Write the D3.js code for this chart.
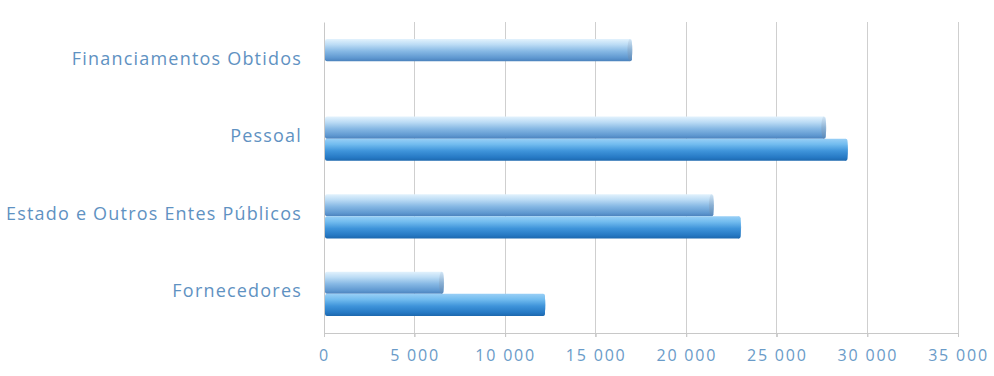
<!DOCTYPE html>
<html><head><meta charset="utf-8">
<script src="https://cdn.jsdelivr.net/npm/d3@7"></script>
<style>body{margin:0;background:#fff;}svg{display:block;}</style>
</head><body>
<svg id="c" width="994" height="376"></svg>
<script>
const categories = ["Financiamentos Obtidos","Pessoal","Estado e Outros Entes Públicos","Fornecedores"];
const seriesA = [17000, 27700, 21500, 6600];   // lighter (upper) bars
const seriesB = [0, 28900, 23000, 12200];       // darker (lower) bars
const xTicks = [0,5000,10000,15000,20000,25000,30000,35000];

const svg = d3.select("#c");
const m = {l:324, r:958, t:22, b:333};
const x = d3.scaleLinear().domain([0,35000]).range([m.l, m.r]);
const y = d3.scaleBand().domain(categories).range([m.t, m.b]).paddingInner(0.43).paddingOuter(0.22);
const sub = d3.scaleBand().domain(["A","B"]).range([0, y.bandwidth()]);

const defs = svg.append("defs");
function grad(id, stops){
  const g = defs.append("linearGradient").attr("id",id).attr("x1",0).attr("y1",0).attr("x2",0).attr("y2",1);
  stops.forEach(s=>g.append("stop").attr("offset",s[0]).attr("stop-color",s[1]));
}
grad("gA",[[0,"#e2f2fd"],[0.25,"#bcdcf5"],[0.55,"#86b8e4"],[0.85,"#5f98d0"],[1,"#4b82bd"]]);
grad("gB",[[0,"#98cff6"],[0.25,"#72bcef"],[0.55,"#3f94da"],[0.85,"#2679c4"],[1,"#1d68ae"]]);
grad("gEnd",[[0,"#cfe2f2"],[0.5,"#8aaed0"],[1,"#5a86b4"]]);

// grid
svg.append("g").selectAll("line").data(xTicks.slice(1)).join("line")
  .attr("x1",d=>x(d)).attr("x2",d=>x(d)).attr("y1",m.t).attr("y2",m.b+4)
  .attr("stroke","#cfcfcf").attr("stroke-width",1).attr("shape-rendering","crispEdges");

// axes
const xa = svg.append("g").attr("transform",`translate(0,${m.b})`)
  .call(d3.axisBottom(x).tickValues(xTicks).tickSize(4).tickFormat(d=>d3.format(",")(d).replace(/,/g," ")));
xa.select(".domain").attr("stroke","#c8c8c8");
xa.selectAll(".tick line").attr("stroke","#c8c8c8");
xa.selectAll("text").attr("fill","#6a9bc8").attr("font-family","'Open Sans',sans-serif")
  .attr("font-size",16).attr("letter-spacing",1.8).attr("y",28).attr("dy","0");

const ya = svg.append("g").attr("transform",`translate(${m.l},0)`)
  .call(d3.axisLeft(y).tickSize(0).tickPadding(22));
ya.select(".domain").attr("stroke","#c8c8c8");
ya.selectAll("text").attr("fill","#5f92c2").attr("font-family","'Open Sans',sans-serif")
  .attr("font-size",18).attr("letter-spacing",1.2).attr("dy","0.2em");

// bars
const rows = [];
categories.forEach((c,i)=>{
  if (seriesA[i]>0) rows.push({c, k:"A", v:seriesA[i]});
  if (seriesB[i]>0) rows.push({c, k:"B", v:seriesB[i]});
});
const bars = svg.append("g");
bars.selectAll("rect.bar").data(rows).join("rect").attr("class","bar")
  .attr("x",x(0)+1).attr("y",d=>y(d.c)+sub(d.k))
  .attr("width",d=>x(d.v)-x(0)-1).attr("height",sub.bandwidth())
  .attr("fill",d=>d.k==="A"?"url(#gA)":"url(#gB)")
  .attr("rx",2);
// end caps
bars.selectAll("ellipse").data(rows).join("ellipse")
  .attr("cx",d=>x(d.v)-2).attr("cy",d=>y(d.c)+sub(d.k)+sub.bandwidth()/2)
  .attr("rx",2.5).attr("ry",sub.bandwidth()/2)
  .attr("fill",d=>d.k==="A"?"url(#gEnd)":"url(#gB)").attr("opacity",0.8);
</script>
</body></html>
